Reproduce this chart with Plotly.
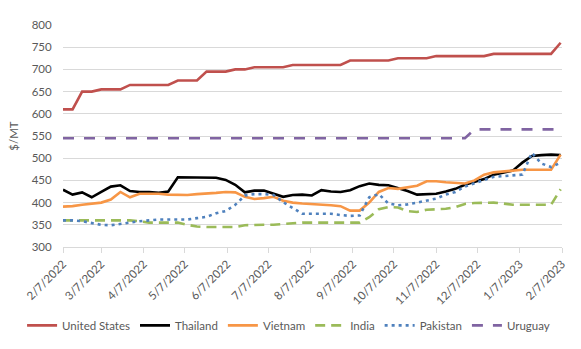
import pandas as pd
import plotly.graph_objects as go

dates = pd.date_range("2022-02-07", periods=53, freq="7D")

united_states = [610, 610, 650, 650, 655, 655, 655, 665, 665, 665, 665, 665, 675, 675, 675,
                 695, 695, 695, 700, 700, 705, 705, 705, 705, 710, 710, 710, 710, 710, 710,
                 720, 720, 720, 720, 720, 725, 725, 725, 725, 730, 730, 730, 730, 730, 730,
                 735, 735, 735, 735, 735, 735, 735, 760]
thailand = [429, 418, 423, 412, 424, 436, 439, 426, 424, 424, 422, 425, 457, 457, 456,
            457, 456, 451, 440, 423, 427, 427, 420, 413, 417, 418, 416, 428, 425, 424,
            428, 437, 443, 440, 439, 433, 426, 418, 419, 420, 425, 431, 440, 446, 453,
            463, 468, 472, 490, 505, 507, 508, 507]
vietnam = [391, 392, 395, 398, 400, 407, 424, 412, 420, 420, 420, 418, 417, 417, 419,
           420, 422, 424, 423, 413, 408, 410, 413, 404, 400, 398, 397, 396, 394, 392,
           382, 382, 400, 424, 433, 431, 434, 438, 448, 448, 446, 444, 443, 450, 463,
           468, 470, 473, 474, 474, 474, 474, 508]
india = [360, 360, 360, 360, 360, 360, 360, 360, 358, 355, 355, 355, 355, 350, 346,
         345, 345, 345, 345, 349, 350, 350, 350, 352, 354, 355, 355, 355, 355, 355,
         355, 355, 367, 385, 390, 389, 381, 379, 384, 385, 386, 390, 397, 399, 400,
         400, 398, 395, 395, 395, 395, 395, 430]
pakistan = [360, 360, 358, 354, 350, 349, 352, 356, 358, 360, 362, 362, 362, 362, 365,
            368, 376, 381, 395, 416, 419, 419, 417, 401, 388, 375, 375, 375, 375, 372,
            370, 371, 412, 419, 398, 394, 396, 400, 405, 409, 418, 424, 436, 444, 451,
            458, 460, 461, 463, 512, 488, 480, 490]
uruguay = [545] * 43 + [565] * 10

series = [
    ("United States", united_states, "#C0504D", "solid"),
    ("Thailand", thailand, "#000000", "solid"),
    ("Vietnam", vietnam, "#F79646", "solid"),
    ("India", india, "#9BBB59", "10px,6px"),
    ("Pakistan", pakistan, "#4F81BD", "3px,4px"),
    ("Uruguay", uruguay, "#8064A2", "11px,10px"),
]

tick_dates = pd.date_range("2022-02-07", "2023-02-07", freq=pd.DateOffset(months=1))
tick_text = [f"{d.month}/{d.day}/{d.year}" for d in tick_dates]
y_ticks = list(range(300, 801, 50))

fig = go.Figure()
for name, vals, color, dash in series:
    fig.add_trace(go.Scatter(x=dates, y=vals, name=name, mode="lines",
                             line=dict(color=color, width=2.6, dash=dash)))

font_family = "Lato, 'Open Sans', sans-serif"
fig.update_layout(
    width=581, height=349,
    margin=dict(l=63, r=19, t=25, b=102, autoexpand=False),
    paper_bgcolor="white", plot_bgcolor="white",
    font=dict(family=font_family, size=11.5, color="#595959"),
    showlegend=True,
    legend=dict(orientation="h", x=-0.082, xanchor="left",
                y=-0.353, yanchor="middle", font=dict(size=11.5, color="#595959"),
                itemwidth=30, tracegroupgap=0, borderwidth=0),
    xaxis=dict(type="date", range=[tick_dates[0], tick_dates[-1]],
               tickvals=list(tick_dates), ticktext=tick_text, tickangle=-45,
               showgrid=False, showline=True, linecolor="#D9D9D9", linewidth=1,
               ticks="outside", ticklen=5, tickcolor="#D9D9D9", zeroline=False),
    yaxis=dict(range=[300, 800], tickvals=y_ticks, showgrid=True,
               gridcolor="#D9D9D9", gridwidth=1, zeroline=False, showline=False,
               ticks="outside", ticklen=8, tickcolor="rgba(0,0,0,0)",
               title=dict(text="$/MT", standoff=10, font=dict(size=11.5, color="#595959"))),
)

fig.write_html("out.html")
